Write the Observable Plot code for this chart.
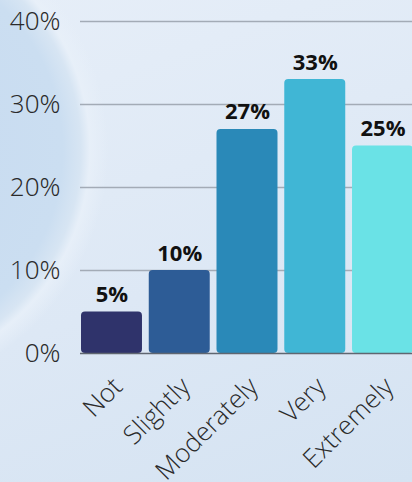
<!DOCTYPE html>
<html>
<head>
<meta charset="utf-8">
<script src="https://cdn.jsdelivr.net/npm/d3@7"></script>
<script src="https://cdn.jsdelivr.net/npm/@observablehq/plot@0.6"></script>
<style>
  html, body { margin: 0; padding: 0; }
  #chart {
    width: 412px; height: 482px; overflow: hidden;
    background:
      radial-gradient(circle 228px at -138px 150px, #c6daf0 0, #cbdef1 88%, #d7e5f3 96%, rgba(232,240,249,0.85) 100%, rgba(225,235,247,0) 108%),
      linear-gradient(160deg, #e6eef8 0%, #dde8f5 55%, #d5e3f2 100%);
  }
  #chart svg { background: transparent; display: block; }
  .light text { font-family: 'Open Sans Light', 'Open Sans', sans-serif; }
</style>
</head>
<body>
<div id="chart"></div>
<script>
const categories = ["Not", "Slightly", "Moderately", "Very", "Extremely"];
const values = [5, 10, 27, 33, 25];
const colors = ["#2f336b", "#2d5c96", "#2a89b8", "#40b6d5", "#6ae2e6"];
const yTicks = [0, 10, 20, 30, 40];

const data = categories.map((c, i) => ({ category: c, value: values[i] }));

const chart = Plot.plot({
  width: 412,
  height: 482,
  marginLeft: 80,
  marginRight: 0,
  marginTop: 21,
  marginBottom: 129,
  style: { background: "transparent", fontFamily: "'Open Sans', sans-serif" },
  x: { domain: categories, range: [81, 413], paddingInner: 0.1, paddingOuter: 0, round: false, label: null, axis: null },
  y: { domain: [0, 40], label: null },
  color: { domain: categories, range: colors },
  marks: [
    Plot.ruleY(yTicks.filter(d => d > 0), { stroke: "#a3abb6", strokeWidth: 1.5 }),
    Plot.barY(data, { x: "category", y: "value", fill: "category", rx: 4 }),
    Plot.ruleY([0], { stroke: "#5f6670", strokeWidth: 1.5 }),
    Plot.text(data, { x: "category", y: "value", text: d => d.value + "%", dy: -17, fontSize: 22, fontWeight: "bold", fill: "#111" }),
    Plot.axisY({ ticks: yTicks, tickFormat: d => d + "%", tickSize: 0, tickPadding: 20, fontSize: 26, fontWeight: 300, fill: "#2a2a2a", label: null, className: "light" }),
    Plot.text(categories, { x: d => d, y: () => 0, text: d => d, rotate: -45, textAnchor: "end", lineAnchor: "middle", dx: 6, dy: 29, fontSize: 26, fontWeight: 300, fill: "#2a2a2a", className: "light" })
  ]
});
document.getElementById("chart").appendChild(chart);
</script>
</body>
</html>
